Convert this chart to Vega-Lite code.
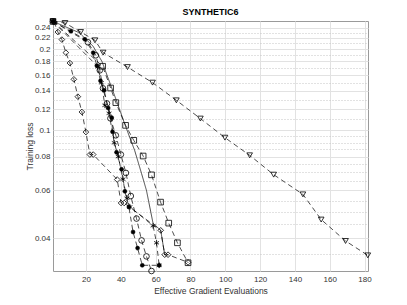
{
 "$schema": "https://vega.github.io/schema/vega-lite/v6.json",
 "width": 315,
 "height": 250,
 "autosize": {"type": "none"},
 "padding": {"left": 53, "top": 21, "right": 39, "bottom": 34},
 "background": "white",
 "title": {"text": "SYNTHETIC6", "font": "Liberation Sans", "fontSize": 9, "fontWeight": "bold", "color": "#000000", "offset": 0, "anchor": "middle"},
 "config": {
  "view": {"stroke": "#9a9a9a", "strokeWidth": 1},
  "axis": {"labelFont": "Liberation Sans", "labelFontSize": 8, "labelColor": "#333333", "titleFont": "Liberation Sans", "titleFontSize": 8.5, "titleFontWeight": "normal", "titleColor": "#333333", "domain": false, "ticks": false, "labelOverlap": false, "labelBound": false}
 },
 "data": {"values": [
  {"s":"tri","o":0,"x":1,"y":0.253},{"s":"tri","o":1,"x":7.9,"y":0.2496},{"s":"tri","o":2,"x":16.9,"y":0.2312},{"s":"tri","o":3,"x":25.1,"y":0.2154},{"s":"tri","o":4,"x":29.8,"y":0.1939},{"s":"tri","o":5,"x":43.8,"y":0.1715},{"s":"tri","o":6,"x":58.2,"y":0.1502},{"s":"tri","o":7,"x":71.9,"y":0.1292},{"s":"tri","o":8,"x":85.7,"y":0.1106},{"s":"tri","o":9,"x":99.8,"y":0.094},{"s":"tri","o":10,"x":114,"y":0.0809},{"s":"tri","o":11,"x":127.8,"y":0.0686},{"s":"tri","o":12,"x":144.6,"y":0.058},{"s":"tri","o":13,"x":155.1,"y":0.0468},{"s":"tri","o":14,"x":169.1,"y":0.039},{"s":"tri","o":15,"x":181.9,"y":0.0345},
  {"s":"dia","o":0,"x":1.6,"y":0.2517},{"s":"dia","o":1,"x":3.8,"y":0.2312},{"s":"dia","o":2,"x":6.1,"y":0.2167},{"s":"dia","o":3,"x":8.4,"y":0.1939},{"s":"dia","o":4,"x":10.7,"y":0.1775},{"s":"dia","o":5,"x":13.0,"y":0.1545},{"s":"dia","o":6,"x":15.3,"y":0.1333},{"s":"dia","o":7,"x":17.6,"y":0.117},{"s":"dia","o":8,"x":19.9,"y":0.0986},{"s":"dia","o":9,"x":22.2,"y":0.0814},{"s":"dia","o":10,"x":24.1,"y":0.0814},{"s":"dia","o":11,"x":37.9,"y":0.0658},{"s":"dia","o":12,"x":40.1,"y":0.0539},{"s":"dia","o":13,"x":41.9,"y":0.0539},{"s":"dia","o":14,"x":62.9,"y":0.0427},{"s":"dia","o":15,"x":65.2,"y":0.0347},{"s":"dia","o":16,"x":67.1,"y":0.0347},{"s":"dia","o":17,"x":78.6,"y":0.0325},
  {"s":"dot","o":0,"x":1,"y":0.253},{"s":"dot","o":1,"x":11.3,"y":0.2326},{"s":"dot","o":2,"x":19.3,"y":0.2172},{"s":"dot","o":3,"x":24.1,"y":0.1939},{"s":"dot","o":4,"x":26.2,"y":0.1736},{"s":"dot","o":5,"x":28.3,"y":0.1525},{"s":"dot","o":6,"x":30.4,"y":0.1407},{"s":"dot","o":7,"x":32.7,"y":0.121},{"s":"dot","o":8,"x":34.7,"y":0.1115},{"s":"dot","o":9,"x":35.2,"y":0.0988},{"s":"dot","o":10,"x":37.5,"y":0.083},{"s":"dot","o":11,"x":40.4,"y":0.0718},{"s":"dot","o":12,"x":42.3,"y":0.0595},{"s":"dot","o":13,"x":44.6,"y":0.0521},{"s":"dot","o":14,"x":47.0,"y":0.0421},{"s":"dot","o":15,"x":49.6,"y":0.0367},{"s":"dot","o":16,"x":52.3,"y":0.0317},{"s":"dot","o":17,"x":62.0,"y":0.0317},
  {"s":"cir","o":0,"x":1,"y":0.253},{"s":"cir","o":1,"x":21.1,"y":0.2118},{"s":"cir","o":2,"x":25.6,"y":0.1896},{"s":"cir","o":3,"x":27.9,"y":0.1668},{"s":"cir","o":4,"x":29.7,"y":0.1431},{"s":"cir","o":5,"x":32.0,"y":0.1258},{"s":"cir","o":6,"x":34.0,"y":0.1108},{"s":"cir","o":7,"x":37.1,"y":0.0959},{"s":"cir","o":8,"x":40.0,"y":0.0814},{"s":"cir","o":9,"x":42.9,"y":0.0696},{"s":"cir","o":10,"x":45.7,"y":0.0572},{"s":"cir","o":11,"x":49.0,"y":0.0472},{"s":"cir","o":12,"x":51.9,"y":0.0392},{"s":"cir","o":13,"x":54.7,"y":0.0342},{"s":"cir","o":14,"x":57.6,"y":0.0302},
  {"s":"ast","o":0,"x":1,"y":0.253},{"s":"ast","o":1,"x":26.8,"y":0.172},{"s":"ast","o":2,"x":28.8,"y":0.15},{"s":"ast","o":3,"x":30.8,"y":0.1238},{"s":"ast","o":4,"x":33.2,"y":0.1157},{"s":"ast","o":5,"x":36.2,"y":0.09},{"s":"ast","o":6,"x":38.5,"y":0.08},{"s":"ast","o":7,"x":41.2,"y":0.066},{"s":"ast","o":8,"x":43.5,"y":0.0561},{"s":"ast","o":9,"x":45.2,"y":0.0521},{"s":"ast","o":10,"x":58.5,"y":0.0444},{"s":"ast","o":11,"x":60.5,"y":0.0384},{"s":"ast","o":12,"x":62.0,"y":0.0317},
  {"s":"sq","o":0,"x":1,"y":0.253},{"s":"sq","o":1,"x":29.5,"y":0.1727},{"s":"sq","o":2,"x":34.1,"y":0.1435},{"s":"sq","o":3,"x":37.1,"y":0.1267},{"s":"sq","o":4,"x":42.7,"y":0.1044},{"s":"sq","o":5,"x":47.4,"y":0.0919},{"s":"sq","o":6,"x":52.8,"y":0.0804},{"s":"sq","o":7,"x":57.6,"y":0.0685},{"s":"sq","o":8,"x":62.8,"y":0.0543},{"s":"sq","o":9,"x":67.5,"y":0.0454},{"s":"sq","o":10,"x":72.5,"y":0.0384},{"s":"sq","o":11,"x":78.6,"y":0.0324},
  {"s":"solid","o":0,"x":1,"y":0.253},{"s":"solid","o":1,"x":16,"y":0.23},{"s":"solid","o":2,"x":24,"y":0.205},{"s":"solid","o":3,"x":29.1,"y":0.18},{"s":"solid","o":4,"x":37.4,"y":0.1292},{"s":"solid","o":5,"x":42.3,"y":0.1052},{"s":"solid","o":6,"x":47.9,"y":0.0844},{"s":"solid","o":7,"x":51.9,"y":0.0692},{"s":"solid","o":8,"x":54.7,"y":0.06},{"s":"solid","o":9,"x":58.5,"y":0.0453},{"s":"solid","o":10,"x":62.9,"y":0.0427},{"s":"solid","o":11,"x":65.2,"y":0.0346}
 ]},
 "encoding": {
  "x": {"field": "x", "type": "quantitative", "scale": {"domain": [1, 182], "nice": false, "zero": false},
        "axis": {"title": "Effective Gradient Evaluations", "values": [20, 40, 60, 80, 100, 120, 140, 160, 180], "grid": true, "gridColor": "#e2e2e2", "gridWidth": 1, "labelPadding": 4, "titlePadding": 3}},
  "y": {"field": "y", "type": "quantitative", "scale": {"type": "log", "domain": [0.0302, 0.2539], "nice": false},
        "axis": {"title": "Training loss", "format": "~g", "titlePadding": 0, "labelPadding": 3,
                 "values": [0.035, 0.04, 0.045, 0.05, 0.055, 0.06, 0.065, 0.07, 0.075, 0.08, 0.085, 0.09, 0.095, 0.1, 0.11, 0.12, 0.13, 0.14, 0.15, 0.16, 0.17, 0.18, 0.19, 0.2, 0.21, 0.22, 0.23, 0.24],
                 "labelExpr": "indexof([0.04,0.06,0.08,0.1,0.12,0.14,0.16,0.18,0.2,0.22,0.24], datum.value) >= 0 ? datum.label : ''",
                 "grid": true,
                 "gridDash": {"condition": {"test": "indexof([0.04,0.06,0.08,0.1,0.12,0.14,0.16,0.18,0.2,0.22,0.24], datum.value) < 0", "value": [1, 2]}, "value": []},
                 "gridColor": {"condition": {"test": "indexof([0.04,0.06,0.08,0.1,0.12,0.14,0.16,0.18,0.2,0.22,0.24], datum.value) < 0", "value": "#c4c4c4"}, "value": "#e2e2e2"}}}
 },
 "layer": [
  {"mark": {"type": "line", "strokeWidth": 0.7, "color": "#000000"},
   "encoding": {"detail": {"field": "s"}, "order": {"field": "o", "type": "quantitative"},
                "strokeDash": {"field": "s", "type": "nominal", "legend": null,
                               "scale": {"domain": ["tri", "dia", "dot", "cir", "ast", "sq", "solid"], "range": [[5, 3.5], [5, 3.5], [5, 3.5], [5, 3.5], [5, 3.5], [5, 3.5], [1, 0]]}}}},
  {"transform": [{"filter": "datum.s !== 'solid' && datum.s !== 'dot'"}],
   "mark": {"type": "point", "filled": true, "fill": "transparent", "stroke": "#000000", "strokeWidth": 0.8, "size": 32, "opacity": 1},
   "encoding": {"shape": {"field": "s", "type": "nominal", "legend": null,
                          "scale": {"domain": ["tri", "dia", "cir", "ast", "sq"], "range": ["triangle-down", "diamond", "circle", "M0,-1L0,1M-0.87,-0.5L0.87,0.5M-0.87,0.5L0.87,-0.5", "square"]}}}},
  {"transform": [{"filter": "datum.s === 'dot'"}],
   "mark": {"type": "point", "shape": "circle", "filled": true, "fill": "#000000", "stroke": "#000000", "strokeWidth": 0.5, "size": 16, "opacity": 1}}
 ]
}
